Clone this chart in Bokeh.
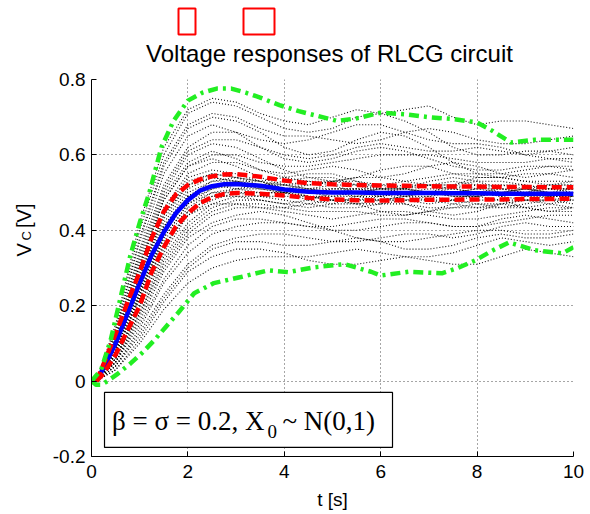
import math
from bokeh.plotting import figure
from bokeh.models import Label, BoxAnnotation, FixedTicker, Range1d
from bokeh.layouts import column, row
from bokeh.embed import file_html
from bokeh.resources import INLINE
from bokeh.core.properties import value

# ---------------- data ----------------
title_text = "Voltage responses of RLCG circuit"
x_label = "t [s]"
x_ticks = [0, 2, 4, 6, 8, 10]
x_tick_labels = ["0", "2", "4", "6", "8", "10"]
y_ticks = [-0.2, 0.0, 0.2, 0.4, 0.6, 0.8]
y_tick_labels = ["-0.2", "0", "0.2", "0.4", "0.6", "0.8"]
y_label_parts = ["V", "C", "[V]"]   # V with subscript C, then unit

# time grid of the mean / std curves
t_band = [0.1, 0.25, 0.5, 0.75, 1.0, 1.25, 1.5, 1.75, 2.0, 2.25, 2.5, 2.75, 3.0,
          3.5, 4.0, 4.5, 5.0, 5.5, 6.0, 6.5, 7.0, 7.5, 8.0, 8.5, 9.0, 9.5, 10.0]
mean_v = [0.0, 0.035, 0.10, 0.18, 0.26, 0.335, 0.395, 0.445, 0.48, 0.505, 0.517, 0.522, 0.523,
          0.518, 0.508, 0.502, 0.50, 0.50, 0.499, 0.499, 0.499, 0.498, 0.498, 0.497, 0.497, 0.497, 0.497]
std_upper = [0.0, 0.045, 0.125, 0.21, 0.29, 0.38, 0.45, 0.495, 0.52, 0.535, 0.543, 0.548, 0.549,
             0.542, 0.532, 0.525, 0.522, 0.52, 0.519, 0.518, 0.517, 0.516, 0.516, 0.515, 0.515, 0.514, 0.514]
std_lower = [0.0, 0.02, 0.07, 0.135, 0.20, 0.29, 0.355, 0.41, 0.445, 0.472, 0.488, 0.496, 0.499,
             0.497, 0.492, 0.486, 0.482, 0.48, 0.479, 0.48, 0.481, 0.481, 0.482, 0.482, 0.483, 0.483, 0.484]

# outer bounds (green)
t_up = [0, 0.2, 0.4, 0.6, 0.8, 1.0, 1.2, 1.45, 1.7, 2.0, 2.3, 2.6, 2.9, 3.2, 3.5, 3.9, 4.3, 4.7,
        5.1, 5.5, 6.0, 6.5, 7.0, 7.5, 8.0, 8.3, 8.7, 9.2, 9.6, 10.0]
bound_upper = [0.0, 0.03, 0.11, 0.22, 0.33, 0.42, 0.50, 0.62, 0.69, 0.744, 0.765, 0.776, 0.776,
               0.765, 0.752, 0.732, 0.716, 0.703, 0.69, 0.697, 0.712, 0.708, 0.70, 0.695, 0.686,
               0.665, 0.633, 0.64, 0.64, 0.64]
t_lo = [0, 0.1, 0.2, 0.33, 0.55, 0.81, 1.05, 1.3, 1.55, 1.79, 2.13, 2.54, 3.1, 3.67, 4.08, 4.63,
        5.25, 5.8, 6.0, 6.58, 7.27, 7.6, 7.96, 8.3, 8.66, 9.2, 9.77, 10.0]
bound_lower = [0.0, -0.01, -0.01, 0.0, 0.02, 0.047, 0.075, 0.108, 0.145, 0.18, 0.233, 0.26, 0.276,
               0.294, 0.289, 0.302, 0.31, 0.29, 0.28, 0.29, 0.286, 0.30, 0.32, 0.345, 0.368, 0.347,
               0.339, 0.355]

# sample trajectories (black dotted)
t_s = [0.1, 0.5, 1, 1.5, 2, 2.5, 3, 3.5, 4, 4.5, 5, 5.5, 6, 6.5, 7, 7.5, 8, 8.5, 9, 9.5, 10]
samples = [
    [0, 0.09, 0.27, 0.43, 0.52, 0.55, 0.54, 0.52, 0.50, 0.49, 0.49, 0.50, 0.51, 0.51, 0.50, 0.49, 0.49, 0.50, 0.51, 0.51, 0.50],
    [0, 0.07, 0.22, 0.37, 0.46, 0.50, 0.51, 0.52, 0.52, 0.51, 0.50, 0.49, 0.48, 0.48, 0.49, 0.50, 0.51, 0.51, 0.50, 0.49, 0.49],
    [0, 0.10, 0.30, 0.48, 0.57, 0.59, 0.57, 0.54, 0.52, 0.52, 0.53, 0.54, 0.54, 0.53, 0.52, 0.52, 0.53, 0.53, 0.52, 0.51, 0.51],
    [0, 0.06, 0.19, 0.33, 0.42, 0.47, 0.49, 0.49, 0.48, 0.47, 0.46, 0.46, 0.47, 0.48, 0.48, 0.47, 0.46, 0.46, 0.47, 0.48, 0.48],
    [0, 0.12, 0.35, 0.55, 0.65, 0.68, 0.66, 0.62, 0.59, 0.58, 0.59, 0.61, 0.62, 0.61, 0.59, 0.57, 0.56, 0.56, 0.57, 0.57, 0.56],
    [0, 0.05, 0.15, 0.27, 0.36, 0.41, 0.43, 0.43, 0.42, 0.41, 0.41, 0.42, 0.43, 0.43, 0.42, 0.41, 0.41, 0.42, 0.43, 0.44, 0.44],
    [0, 0.14, 0.40, 0.60, 0.71, 0.74, 0.73, 0.70, 0.67, 0.66, 0.67, 0.70, 0.71, 0.69, 0.66, 0.62, 0.60, 0.60, 0.61, 0.61, 0.60],
    [0, 0.03, 0.10, 0.19, 0.26, 0.30, 0.32, 0.33, 0.33, 0.33, 0.34, 0.35, 0.34, 0.33, 0.33, 0.34, 0.36, 0.38, 0.37, 0.36, 0.37],
    [0, 0.09, 0.28, 0.45, 0.54, 0.56, 0.55, 0.53, 0.51, 0.51, 0.52, 0.52, 0.51, 0.50, 0.50, 0.51, 0.52, 0.52, 0.51, 0.50, 0.50],
    [0, 0.07, 0.23, 0.38, 0.47, 0.50, 0.50, 0.49, 0.49, 0.49, 0.48, 0.48, 0.49, 0.50, 0.51, 0.51, 0.50, 0.49, 0.48, 0.48, 0.49],
    [0, 0.11, 0.32, 0.50, 0.60, 0.63, 0.62, 0.59, 0.56, 0.54, 0.53, 0.54, 0.56, 0.57, 0.57, 0.55, 0.54, 0.54, 0.55, 0.55, 0.54],
    [0, 0.06, 0.18, 0.31, 0.40, 0.45, 0.47, 0.47, 0.46, 0.45, 0.45, 0.45, 0.44, 0.44, 0.45, 0.46, 0.47, 0.47, 0.46, 0.45, 0.45],
    [0, 0.13, 0.37, 0.57, 0.67, 0.70, 0.69, 0.66, 0.62, 0.60, 0.61, 0.64, 0.66, 0.65, 0.62, 0.58, 0.55, 0.55, 0.56, 0.57, 0.57],
    [0, 0.04, 0.13, 0.23, 0.31, 0.36, 0.38, 0.39, 0.39, 0.38, 0.37, 0.37, 0.38, 0.39, 0.39, 0.38, 0.39, 0.41, 0.42, 0.41, 0.41],
    [0, 0.08, 0.26, 0.42, 0.51, 0.54, 0.53, 0.51, 0.50, 0.50, 0.51, 0.51, 0.50, 0.49, 0.48, 0.48, 0.49, 0.50, 0.51, 0.52, 0.52],
    [0, 0.08, 0.24, 0.39, 0.48, 0.51, 0.52, 0.52, 0.51, 0.50, 0.49, 0.49, 0.50, 0.51, 0.52, 0.52, 0.51, 0.50, 0.49, 0.49, 0.50],
    [0, 0.10, 0.29, 0.46, 0.55, 0.58, 0.58, 0.56, 0.54, 0.53, 0.53, 0.52, 0.52, 0.53, 0.54, 0.55, 0.55, 0.54, 0.53, 0.53, 0.53],
    [0, 0.06, 0.20, 0.34, 0.44, 0.48, 0.50, 0.50, 0.50, 0.49, 0.48, 0.47, 0.47, 0.47, 0.46, 0.46, 0.46, 0.47, 0.48, 0.48, 0.47],
    [0, 0.12, 0.34, 0.52, 0.62, 0.66, 0.66, 0.64, 0.63, 0.64, 0.66, 0.68, 0.68, 0.66, 0.64, 0.63, 0.63, 0.62, 0.60, 0.59, 0.58],
    [0, 0.05, 0.16, 0.29, 0.38, 0.42, 0.44, 0.45, 0.44, 0.42, 0.40, 0.38, 0.37, 0.37, 0.38, 0.39, 0.40, 0.40, 0.39, 0.39, 0.40],
    [0, 0.09, 0.26, 0.41, 0.49, 0.52, 0.52, 0.51, 0.51, 0.52, 0.53, 0.53, 0.52, 0.51, 0.50, 0.50, 0.51, 0.52, 0.52, 0.51, 0.51],
    [0, 0.07, 0.23, 0.39, 0.49, 0.53, 0.54, 0.53, 0.51, 0.49, 0.48, 0.48, 0.48, 0.49, 0.50, 0.50, 0.49, 0.48, 0.48, 0.49, 0.49],
    [0, 0.11, 0.31, 0.48, 0.57, 0.60, 0.60, 0.58, 0.57, 0.57, 0.58, 0.59, 0.60, 0.60, 0.60, 0.59, 0.58, 0.58, 0.58, 0.59, 0.59],
    [0, 0.05, 0.17, 0.30, 0.39, 0.44, 0.46, 0.46, 0.45, 0.44, 0.43, 0.44, 0.45, 0.45, 0.44, 0.43, 0.43, 0.44, 0.45, 0.46, 0.46],
    [0, 0.15, 0.42, 0.62, 0.72, 0.75, 0.74, 0.71, 0.69, 0.68, 0.70, 0.72, 0.71, 0.72, 0.73, 0.70, 0.68, 0.69, 0.69, 0.68, 0.67],
    [0, 0.03, 0.11, 0.21, 0.29, 0.33, 0.35, 0.35, 0.34, 0.32, 0.31, 0.31, 0.32, 0.33, 0.32, 0.31, 0.31, 0.33, 0.35, 0.34, 0.33],
    [0, 0.08, 0.25, 0.41, 0.50, 0.53, 0.53, 0.52, 0.52, 0.53, 0.52, 0.50, 0.49, 0.50, 0.52, 0.53, 0.52, 0.50, 0.49, 0.50, 0.51],
    [0, 0.06, 0.21, 0.36, 0.45, 0.49, 0.49, 0.48, 0.47, 0.48, 0.50, 0.51, 0.50, 0.48, 0.47, 0.48, 0.50, 0.51, 0.51, 0.50, 0.48],
    [0, 0.10, 0.31, 0.49, 0.58, 0.61, 0.59, 0.56, 0.55, 0.56, 0.57, 0.56, 0.54, 0.55, 0.57, 0.58, 0.57, 0.55, 0.54, 0.55, 0.56],
    [0, 0.05, 0.18, 0.32, 0.41, 0.46, 0.48, 0.48, 0.47, 0.46, 0.47, 0.49, 0.49, 0.47, 0.45, 0.44, 0.45, 0.47, 0.48, 0.47, 0.46],
    [0, 0.09, 0.27, 0.44, 0.53, 0.55, 0.54, 0.53, 0.54, 0.55, 0.55, 0.53, 0.51, 0.51, 0.53, 0.54, 0.53, 0.51, 0.50, 0.52, 0.53],
    [0, 0.07, 0.22, 0.36, 0.44, 0.47, 0.47, 0.46, 0.46, 0.47, 0.48, 0.47, 0.45, 0.44, 0.45, 0.47, 0.48, 0.48, 0.46, 0.45, 0.46],
    [0, 0.11, 0.33, 0.51, 0.61, 0.64, 0.64, 0.62, 0.60, 0.59, 0.60, 0.62, 0.63, 0.62, 0.61, 0.61, 0.62, 0.61, 0.60, 0.61, 0.62],
    [0, 0.04, 0.14, 0.26, 0.34, 0.39, 0.41, 0.42, 0.42, 0.41, 0.40, 0.40, 0.41, 0.42, 0.42, 0.41, 0.41, 0.43, 0.44, 0.43, 0.42],
    [0, 0.08, 0.24, 0.40, 0.49, 0.52, 0.51, 0.50, 0.50, 0.51, 0.51, 0.51, 0.51, 0.52, 0.52, 0.51, 0.50, 0.49, 0.50, 0.51, 0.51],
    [0, 0.07, 0.23, 0.38, 0.47, 0.51, 0.53, 0.53, 0.52, 0.51, 0.50, 0.50, 0.51, 0.51, 0.50, 0.49, 0.49, 0.50, 0.51, 0.50, 0.49],
    [0, 0.13, 0.38, 0.58, 0.68, 0.71, 0.70, 0.67, 0.65, 0.65, 0.64, 0.63, 0.64, 0.66, 0.67, 0.66, 0.64, 0.63, 0.63, 0.64, 0.65],
    [0, 0.04, 0.12, 0.22, 0.30, 0.35, 0.37, 0.37, 0.36, 0.36, 0.37, 0.38, 0.37, 0.35, 0.35, 0.36, 0.38, 0.39, 0.38, 0.38, 0.39],
    [0, 0.09, 0.28, 0.44, 0.52, 0.54, 0.53, 0.52, 0.53, 0.54, 0.54, 0.52, 0.50, 0.49, 0.50, 0.52, 0.54, 0.54, 0.53, 0.52, 0.52],
    [0, 0.06, 0.20, 0.35, 0.45, 0.49, 0.51, 0.51, 0.50, 0.48, 0.47, 0.47, 0.48, 0.49, 0.49, 0.48, 0.47, 0.46, 0.46, 0.47, 0.48],
]

annot_main = "\u03b2 = \u03c3 = 0.2, X"
annot_sub = "0"
annot_tail = "~ N(0,1)"

SANS = "Liberation Sans"
SERIF = "Liberation Serif"

# ---------------- top strip: two red outline boxes and the title ----------------
TOP_H = 67
top = figure(width=590, height=TOP_H, x_range=Range1d(0, 590), y_range=Range1d(TOP_H, 0),
             output_backend="svg", toolbar_location=None,
             x_axis_location=None, y_axis_location=None,
             min_border_left=0, min_border_right=0, min_border_top=0, min_border_bottom=0)
top.outline_line_color = None
top.xgrid.visible = False
top.ygrid.visible = False
top.background_fill_color = "white"
top.border_fill_color = "white"
top.quad(left=[178, 243], right=[195, 274], top=[8, 8], bottom=[34, 34],
         fill_color=None, line_color="#FF0000", line_width=2)
top.text(x=[329], y=[53], text=[title_text], text_align="center", text_baseline="middle",
         text_font=value(SANS), text_font_size="24px", text_color="black")

# ---------------- main figure ----------------
p = figure(width=545, height=514 - TOP_H, x_range=Range1d(0, 10), y_range=Range1d(-0.2, 0.8),
           output_backend="svg", toolbar_location=None,
           min_border_left=46, min_border_right=17, min_border_top=79 - TOP_H, min_border_bottom=58)
p.outline_line_color = None
p.background_fill_color = "white"
p.border_fill_color = "white"

for ax in (p.xaxis[0], p.yaxis[0]):
    ax.axis_line_color = "black"
    ax.axis_line_width = 1
    ax.major_tick_in = 5
    ax.major_tick_out = 0
    ax.minor_tick_line_color = None
    ax.major_tick_line_color = "black"
    ax.major_label_text_font = SANS
    ax.major_label_text_font_size = "19px"
    ax.major_label_text_color = "black"

p.xaxis.ticker = FixedTicker(ticks=x_ticks)
p.xaxis.major_label_overrides = dict(zip(x_ticks, x_tick_labels))
p.xaxis.major_label_standoff = 8
p.xaxis.axis_label = x_label
p.xaxis.axis_label_text_font = SANS
p.xaxis.axis_label_text_font_size = "19px"
p.xaxis.axis_label_text_font_style = "normal"
p.xaxis.axis_label_text_color = "black"
p.xaxis.axis_label_standoff = 8

p.yaxis.ticker = FixedTicker(ticks=y_ticks)
p.yaxis.major_label_overrides = dict(zip(y_ticks, y_tick_labels))
p.yaxis.major_label_standoff = 6

for g in (p.xgrid[0], p.ygrid[0]):
    g.grid_line_color = "black"
    g.grid_line_dash = "1 3"
    g.grid_line_width = 1
    g.grid_line_alpha = 0.7

# sample paths
for s in samples:
    p.line(t_s, s, line_color="black", line_width=1.1, line_dash="1 2", line_alpha=0.95)

# mean, std, bounds
p.line(t_band, mean_v, line_color="#0000FF", line_width=4.5)
p.line(t_band, std_upper, line_color="#FF0000", line_width=4.5, line_dash="10 5")
p.line(t_band, std_lower, line_color="#FF0000", line_width=4.5, line_dash="10 5")
p.line(t_up, bound_upper, line_color="#22EE22", line_width=4.5, line_dash="10 5 3 5")
p.line(t_lo, bound_lower, line_color="#22EE22", line_width=4.5, line_dash="10 5 3 5")

# annotation box
p.add_layout(BoxAnnotation(left=0.27, right=6.245, top=-0.030, bottom=-0.176,
                           fill_color="white", fill_alpha=1.0,
                           line_color="black", line_width=1.2, line_alpha=1.0))
p.add_layout(Label(x=3.589, y=-0.106, text=annot_main, text_align="right",
                   text_baseline="alphabetic", text_font=SERIF,
                   text_font_size="27px", text_color="black"))
p.add_layout(Label(x=3.651, y=-0.133, text=annot_sub, text_align="left",
                   text_baseline="alphabetic", text_font=SERIF,
                   text_font_size="19px", text_color="black"))
p.add_layout(Label(x=3.963, y=-0.106, text=annot_tail, text_align="left",
                   text_baseline="alphabetic", text_font=SERIF,
                   text_font_size="27px", text_color="black"))

# ---------------- narrow left strip holding the rotated y label ----------------
YL_H = 514 - TOP_H
yl = figure(width=45, height=YL_H, x_range=Range1d(0, 45), y_range=Range1d(YL_H, 0),
            output_backend="svg", toolbar_location=None,
            x_axis_location=None, y_axis_location=None,
            min_border_left=0, min_border_right=0, min_border_top=0, min_border_bottom=0)
yl.outline_line_color = None
yl.xgrid.visible = False
yl.ygrid.visible = False
yl.background_fill_color = "white"
yl.border_fill_color = "white"
yl.text(x=[23], y=[277 - TOP_H], text=[y_label_parts[0]], angle=math.pi / 2, text_align="left",
        text_baseline="alphabetic", text_font_size="20px", text_color="black",
        text_font=value(SANS))
yl.text(x=[26], y=[258 - TOP_H], text=[y_label_parts[1]], angle=math.pi / 2, text_align="left",
        text_baseline="alphabetic", text_font_size="13px", text_color="black",
        text_font=value(SANS))
yl.text(x=[23], y=[243 - TOP_H], text=[y_label_parts[2]], angle=math.pi / 2, text_align="left",
        text_baseline="alphabetic", text_font_size="20px", text_color="black",
        text_font=value(SANS))

layout = column(top, row(yl, p, spacing=0), spacing=0)
open("out.html", "w").write(file_html(layout, INLINE))
